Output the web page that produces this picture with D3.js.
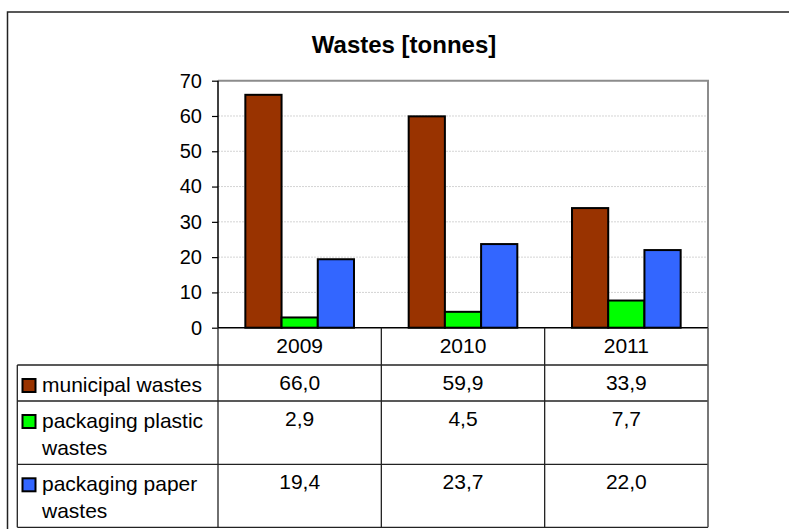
<!DOCTYPE html>
<html>
<head>
<meta charset="utf-8">
<script src="https://cdn.jsdelivr.net/npm/d3@7"></script>
<style>
  html, body { margin: 0; padding: 0; background: #fff; }
  svg { display: block; }
  text { font-family: "Liberation Sans", Arial, sans-serif; fill: #000; }
</style>
</head>
<body>
<svg id="chart" width="789" height="529"></svg>
<script>
// ---- data ----
const title = "Wastes [tonnes]";
const years = ["2009", "2010", "2011"];
const seriesNames = ["municipal wastes", "packaging plastic wastes", "packaging paper wastes"];
const seriesLabelLines = [["municipal wastes"], ["packaging plastic", "wastes"], ["packaging paper", "wastes"]];
const municipalWastes = [66.0, 59.9, 33.9];
const plasticWastes = [2.9, 4.5, 7.7];
const paperWastes = [19.4, 23.7, 22.0];
const seriesColors = ["#993300", "#00ff00", "#3366ff"];
const yTicks = [0, 10, 20, 30, 40, 50, 60, 70];

const seriesValues = [municipalWastes, plasticWastes, paperWastes];

// ---- layout ----
const svg = d3.select("#chart");
const plot = { left: 218, right: 708, top: 80.7, bottom: 327.7 };
const tableLeft = 17.3;
const rowHeights = [37.3, 36, 63.3, 63];
const fmt = v => d3.format(".1f")(v).replace(".", ",");

// outer frame
svg.append("rect")
  .attr("x", 7.5).attr("y", 12).attr("width", 900).attr("height", 700)
  .attr("fill", "none").attr("stroke", "#222").attr("stroke-width", 1.5);

// title
svg.append("text")
  .attr("x", 404).attr("y", 53)
  .attr("text-anchor", "middle")
  .attr("font-size", 24).attr("font-weight", "bold")
  .text(title);

const x = d3.scaleBand().domain(years).range([plot.left, plot.right]).padding(0);
const xs = d3.scaleBand().domain(d3.range(seriesNames.length)).range([0, x.bandwidth()]).paddingInner(0).paddingOuter(0.755);
const y = d3.scaleLinear().domain([0, 70]).range([plot.bottom, plot.top]);

// gridlines
svg.append("g").selectAll("line").data(yTicks.filter(t => t > 0 && t < 70)).join("line")
  .attr("x1", plot.left).attr("x2", plot.right)
  .attr("y1", d => y(d)).attr("y2", d => y(d))
  .attr("stroke", "#d4d4d4").attr("stroke-width", 1).attr("stroke-dasharray", "2,1");

// plot border (top & right, gray)
svg.append("path")
  .attr("d", `M${plot.left},${plot.top}H${plot.right}V${plot.bottom}`)
  .attr("fill", "none").attr("stroke", "#8c8c8c").attr("stroke-width", 2);

// bars
const barsG = svg.append("g");
years.forEach((yr, i) => {
  seriesValues.forEach((vals, s) => {
    barsG.append("rect")
      .attr("x", x(yr) + xs(s))
      .attr("y", y(vals[i]))
      .attr("width", xs.bandwidth())
      .attr("height", y(0) - y(vals[i]))
      .attr("fill", seriesColors[s])
      .attr("stroke", "#000").attr("stroke-width", 2);
  });
});

// y axis
const yAxis = d3.axisLeft(y).tickValues(yTicks).tickSize(6).tickPadding(10).tickFormat(d3.format("d"));
const yAxisG = svg.append("g").attr("transform", `translate(${plot.left},0)`).call(yAxis);
yAxisG.select(".domain").remove();
yAxisG.selectAll(".tick line").attr("stroke", "#000").attr("stroke-width", 1.2);
yAxisG.selectAll(".tick text").attr("font-size", 20).attr("font-family", "'Liberation Sans', Arial, sans-serif").attr("fill", "#000");
svg.append("line").attr("x1", plot.left).attr("x2", plot.left).attr("y1", plot.top).attr("y2", plot.bottom)
  .attr("stroke", "#000").attr("stroke-width", 1.5);

// ---- data table ----
const rowTops = [plot.bottom];
rowHeights.forEach(h => rowTops.push(rowTops[rowTops.length - 1] + h));
const tableBottom = rowTops[rowTops.length - 1];
const tg = svg.append("g");
const lineColor = "#222";

// horizontal lines
tg.append("line").attr("x1", plot.left).attr("x2", plot.right).attr("y1", plot.bottom).attr("y2", plot.bottom)
  .attr("stroke", "#000").attr("stroke-width", 1.5);
for (let r = 1; r < rowTops.length; r++) {
  tg.append("line").attr("x1", tableLeft).attr("x2", plot.right)
    .attr("y1", rowTops[r]).attr("y2", rowTops[r])
    .attr("stroke", lineColor).attr("stroke-width", 1.3);
}
// vertical lines
tg.append("line").attr("x1", tableLeft).attr("x2", tableLeft).attr("y1", rowTops[1]).attr("y2", tableBottom)
  .attr("stroke", lineColor).attr("stroke-width", 1.3);
years.forEach(yr => {
  tg.append("line").attr("x1", x(yr)).attr("x2", x(yr)).attr("y1", plot.bottom).attr("y2", tableBottom)
    .attr("stroke", lineColor).attr("stroke-width", 1.3);
});
tg.append("line").attr("x1", plot.right).attr("x2", plot.right).attr("y1", plot.bottom).attr("y2", tableBottom)
  .attr("stroke", "#555").attr("stroke-width", 1.6);

// header years
years.forEach(yr => {
  tg.append("text").attr("x", x(yr) + x.bandwidth() / 2).attr("y", rowTops[0] + 25.5)
    .attr("text-anchor", "middle").attr("font-size", 21).text(yr);
});

// rows
seriesNames.forEach((name, s) => {
  const top = rowTops[s + 1];
  // legend key
  tg.append("rect").attr("x", 22.5).attr("y", top + 14).attr("width", 13).attr("height", 13)
    .attr("fill", seriesColors[s]).attr("stroke", "#000").attr("stroke-width", 2);
  const t = tg.append("text").attr("x", 42).attr("y", top + 27).attr("font-size", 21);
  seriesLabelLines[s].forEach((ln, k) => {
    t.append("tspan").attr("x", 42).attr("dy", k === 0 ? 0 : 27).text(ln);
  });
  years.forEach((yr, i) => {
    tg.append("text").attr("x", x(yr) + x.bandwidth() / 2).attr("y", top + 24.5)
      .attr("text-anchor", "middle").attr("font-size", 21).text(fmt(seriesValues[s][i]));
  });
});
</script>
</body>
</html>
